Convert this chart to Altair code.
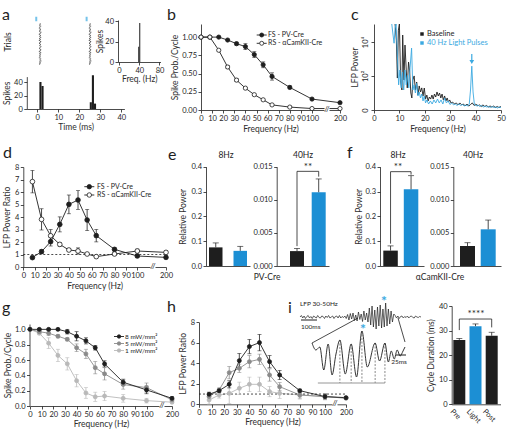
import altair as alt
import pandas as pd

W, H = 507, 431
FONT = "Lato"
INK = "#1e1e1e"
BLUE = "#1c8fd4"
SKY = "#3ba9e1"
MID = "#8a8a8a"
LIGHT = "#b9b9b9"

# ---------------- a: raster, PSTH, instantaneous frequency ----------------
RASTER_EARLY = [1.4, 1.1, 1.6, 1.2, 1.0, 1.5, 1.3, 1.1, 1.7, 1.4, 1.0, 1.5, 1.2, 1.6, 1.1, 1.4, 1.0, 1.6, 1.3, 1.1,
                1.5, 1.2, 1.7, 1.3, 1.1, 1.6, 1.4, 1.0, 1.6, 1.2, 1.5, 1.1, 1.4, 1.0, 1.6, 1.3, 1.7, 1.2, 1.4, 1.1]
RASTER_LATE = [25.2, 24.9, 25.4, 25.0, 24.8, 25.3, 25.1, 24.9, 25.5, 25.2, 24.8, 25.3, 25.0, 25.4, 24.9, 25.2, 24.8,
               25.4, 25.1, 24.9, 25.3, 25.0, 25.5, 25.1, 24.9, 25.4, 25.2, 24.8, 25.4, 25.0, 25.3, 24.9, 25.2, 24.8,
               25.4, 25.1, 25.5, 25.0, 25.2, 24.9]
STIM_TIMES = [-0.5, 23.5]
PSTH_BIN_START = [1, 2, 25, 26, 27]
PSTH_COUNT = [40, 34, 10, 50, 8]
PSTH_BIN_MS = 1
FREQ_BIN_START = [38, 40]
FREQ_COUNT = [15, 38]
FREQ_BIN_HZ = 2

# ---------------- b: spike probability per cycle ----------------
B_FREQ = [0, 8, 16, 24, 32, 40, 48, 56, 64, 80, 100, 200]
B_FS = [1.0, 1.0, 1.0, 0.96, 0.91, 0.87, 0.76, 0.62, 0.46, 0.31, 0.15, 0.10]
B_FS_SEM = [0.0, 0.0, 0.005, 0.01, 0.02, 0.04, 0.04, 0.04, 0.05, 0.02, 0.01, 0.01]
B_RS = [1.0, 1.0, 0.82, 0.59, 0.41, 0.30, 0.21, 0.14, 0.07, 0.04, 0.02, 0.02]
B_RS_SEM = [0.0, 0.0, 0.01, 0.02, 0.02, 0.01, 0.01, 0.01, 0.01, 0.01, 0.005, 0.005]

# ---------------- c: LFP spectra ----------------
C_BASE_HZ = [8.3, 8.8, 9.2, 9.6, 10.0, 10.5, 11.0, 11.3, 11.8, 12.2, 12.7, 13.1, 13.6, 14.0,
             14.5, 14.9, 15.3, 15.8, 16.3, 16.8, 17.3, 17.8, 18.3, 18.8, 19.3, 19.8, 20.3, 20.8, 21.3, 21.8,
             22.3, 22.8, 23.3, 23.8, 24.3, 24.8, 25.3, 25.8, 26.3, 26.8, 27.3, 27.8, 28.3, 28.8, 29.3, 29.8,
             30.3,
             31.0, 31.7, 32.4, 33.1, 33.8, 34.5, 35.2, 35.9, 36.6, 37.3, 38.0, 38.7, 39.4, 40.1, 40.8, 41.5,
             42.2, 42.9, 43.6, 44.3, 45.0, 45.7, 46.4, 47.1, 47.8, 48.5, 49.2, 50.0]
C_BASE_POW = [150000, 13000, 75, 50000, 150000, 43, 14, 25800, 57, 6650, 225, 19, 665, 225,
              9, 4.1, 57, 100, 14, 43, 6.6, 25, 10.5, 19, 5.7, 18.7, 3.4, 6.6, 2.4, 4.8,
              3.4, 6.6, 3.4, 7.7, 4.8, 10.5, 5.7, 9, 4.1, 7.7, 2.9, 5.7, 2.4, 4.1, 1.95, 2.9,
              1.6,
              1.9, 1.25, 1.6, 1.0, 1.6, 1.0, 1.25, 0.72, 1.25, 0.7, 1.1, 1.6, 0.85, 1.25, 0.72, 1.0,
              0.6, 1.0, 0.6, 0.85, 0.5, 0.72, 0.5, 0.7, 0.4, 0.6, 0.4, 0.6]
C_LIGHT_HZ = [7.0, 7.5, 7.9, 8.3, 8.7,
              9.2, 9.7, 10.2, 10.7, 11.2, 11.7, 12.2, 12.7, 13.2, 13.7, 14.2,
              14.8,
              15.3, 15.8, 16.3, 16.8, 17.3, 17.8, 18.3, 18.8, 19.3, 19.8, 20.3, 20.8,
              21.5, 22.2, 22.9, 23.6, 24.3, 25.0, 25.7, 26.4, 27.1, 27.8, 28.5, 29.2, 29.9, 30.6, 31.3, 32.0,
              32.7, 33.4, 34.1, 34.8, 35.5, 36.2, 36.9,
              37.5, 38.0, 38.5, 39.0, 39.5,
              40.2, 40.9, 41.6, 42.3, 43.0, 43.7, 44.4, 45.1, 45.8, 46.5, 47.2, 47.9, 48.6, 49.3, 50.0]
C_LIGHT_POW = [150000, 25800, 8500, 65000, 150000,
               1720, 29, 225, 19, 171, 14, 225, 29, 113, 19, 300,
               4400,
               14, 29, 9, 36, 5.7, 10.5, 4.1, 7.7, 2.4, 5.7, 1.6, 2.9,
               1.25, 2.4, 1.25, 2.9, 1.6, 3.4, 1.6, 2.9, 1.25, 4.1, 1.6, 2.4, 1.1, 1.6, 1.0, 1.25,
               0.85, 1.25, 0.85, 1.1, 0.72, 1.0, 0.72,
               1.25, 14, 380, 10.5, 1.25,
               0.72, 1.0, 0.6, 0.85, 0.5, 0.72, 0.5, 0.6, 0.4, 0.6, 0.4, 0.5, 0.31, 0.5, 0.4]
C_PULSE_HZ = 38.5

# ---------------- d: LFP power ratio ----------------
D_FREQ = [8, 16, 24, 32, 40, 48, 56, 64, 80, 100, 200]
D_FS = [0.75, 1.23, 2.03, 3.41, 5.01, 5.36, 3.76, 2.51, 1.41, 0.88, 0.77]
D_FS_SEM = [0.05, 0.15, 0.35, 0.6, 0.75, 0.75, 0.85, 0.5, 0.12, 0.1, 0.1]
D_RS = [6.83, 3.81, 2.5, 1.81, 1.36, 1.28, 1.04, 0.83, 1.04, 1.28, 1.17]
D_RS_SEM = [0.9, 0.85, 0.5, 0.15, 0.12, 0.25, 0.05, 0.1, 0.1, 0.15, 0.12]

# ---------------- e / f: relative power ----------------
CONDS = ["Baseline", "Light"]
E8 = [0.075, 0.061]
E8_SEM = [0.018, 0.018]
E40 = [0.00225, 0.01115]
E40_SEM = [0.0004, 0.002]
F8 = [0.062, 0.309]
F8_SEM = [0.019, 0.055]
F40 = [0.00302, 0.00554]
F40_SEM = [0.0005, 0.0014]

# ---------------- g / h: light intensity series ----------------
POWERS = ["8 mW/mm²", "5 mW/mm²", "1 mW/mm²"]
G_FREQ = [0, 8, 16, 24, 32, 40, 48, 56, 64, 80, 100, 200]
G8 = [1.0, 1.0, 1.0, 1.0, 0.97, 0.91, 0.85, 0.76, 0.55, 0.31, 0.21, 0.10]
G8_SEM = [0.01, 0.01, 0.01, 0.01, 0.03, 0.06, 0.04, 0.03, 0.04, 0.04, 0.05, 0.02]
G5 = [1.0, 0.97, 0.95, 0.91, 0.87, 0.76, 0.68, 0.50, 0.42, 0.28, 0.24, 0.08]
G5_SEM = [0.01, 0.01, 0.03, 0.02, 0.02, 0.05, 0.06, 0.08, 0.08, 0.06, 0.06, 0.02]
G1 = [1.0, 0.95, 0.82, 0.66, 0.55, 0.33, 0.17, 0.12, 0.13, 0.10, 0.07, 0.05]
G1_SEM = [0.01, 0.02, 0.07, 0.08, 0.08, 0.08, 0.07, 0.06, 0.06, 0.05, 0.03, 0.02]
H_FREQ = [8, 16, 24, 32, 40, 48, 56, 64, 80, 100, 200]
H8 = [0.98, 1.33, 1.95, 4.26, 5.63, 6.02, 4.16, 2.86, 1.33, 0.75, 0.65]
H8_SEM = [0.2, 0.15, 0.35, 0.7, 0.7, 0.8, 0.6, 0.45, 0.15, 0.2, 0.1]
H5 = [0.75, 1.4, 3.09, 3.51, 4.16, 4.39, 2.86, 1.72, 0.91, 0.75, 0.6]
H5_SEM = [0.3, 0.2, 0.6, 0.4, 0.6, 0.5, 0.6, 0.4, 0.3, 0.3, 0.1]
H1 = [0.42, 0.91, 1.07, 1.56, 1.95, 1.95, 1.24, 1.07, 0.91, 0.75, 0.6]
H1_SEM = [0.4, 0.3, 1.0, 0.6, 0.7, 0.7, 0.5, 0.5, 0.4, 0.3, 0.1]

# ---------------- i: filtered LFP and cycle duration ----------------
LFP_TRACE = [0, 1.5, -1, 1, -1.5, 0.5, 1.5, -1, 0.5, -1.5, 1, 0, -1, 1.5, -0.5, -1, 1, 0.5, -1.5, 1,
             -0.5, 1.5, -1, 0, 1, -1.5, 0.5, 1, -1, 1.5, -1, 0.5, -0.5, 1, -1.5,
             2.5, -3, 3.5, -2, 4, -3.5, 2, -4, 5, -2.5, 3, -4.5, 6, -3, 4, -5,
             9, -8, 11, -10, 7, -12, 10, -9, 12, -11, 8, -10, 14, -9, 8, -7, 6, -5, 3,
             1.5, -1, 1, -1.5, 0.5, 1, -1, 0.5, -0.5, 1, -1, 0.5, 1, -0.5, -1, 1, 0, -0.5, 0.5, 0]
ZOOM_MS = [0, 8, 16, 24, 33, 41, 49, 57, 68, 80, 91, 102, 113, 129, 138, 149, 156, 162, 168, 174, 180, 186, 190]
ZOOM_UV = [15, 8, 11, -12, 14, -17, 4, 18, -16, 14, -19, 27, -9, 15, -3, 15, -4, 7, -1, 8, 2, 7, 11]
PEAK_MS = [57, 80, 102, 129, 149]
PEAK_UV = [18, 14, 27, 15, 15]
PEAK_FLOOR = -25
FLOOR_START_MS = 12
CYCLE_CONDS = ["Pre", "Light", "Post"]
CYCLE_MS = [26.2, 31.8, 27.9]
CYCLE_SEM = [0.6, 0.9, 1.4]

ONE = pd.DataFrame({"k": [0]})


def q(domain, rng, **kw):
    return alt.Scale(domain=domain, range=rng, nice=False, zero=False, **kw)


def left(xpix, values, title=None, fmt=None, pad=3, **kw):
    opts = dict(orient="left", offset=-xpix, values=values, title=title, titlePadding=pad,
                titleFontWeight="normal")
    if fmt:
        opts["format"] = fmt
    opts.update(kw)
    return alt.Axis(**opts)


def bottom(ypix, values=None, title=None, fmt=None, pad=2, **kw):
    opts = dict(orient="bottom", offset=ypix - H, title=title, titlePadding=pad, titleFontWeight="normal")
    if values is not None:
        opts["values"] = values
    if fmt:
        opts["format"] = fmt
    opts.update(kw)
    return alt.Axis(**opts)


def band(names, start, end, first, width, gap):
    step = width + gap
    n = len(names)
    inner = gap / step
    outer_total = (end - start) - step * (n - inner)
    return alt.Scale(domain=names, range=[start, end], paddingInner=inner,
                     paddingOuter=outer_total / (2 * step), align=(first - start) / outer_total)


def label(text, x, y, size=8, angle=0, color=INK, align="center", baseline="middle", weight="normal"):
    kw = dict(text=text, fontSize=size, color=color, align=align, baseline=baseline, font=FONT,
              fontWeight=weight)
    if angle:
        kw["angle"] = angle
    return alt.Chart(ONE).mark_text(**kw).encode(x=alt.value(x), y=alt.value(y))


def seg(x1, y1, x2, y2, color=INK, width=0.8, dash=None):
    kw = dict(color=color, strokeWidth=width)
    if dash:
        kw["strokeDash"] = dash
    return alt.Chart(ONE).mark_rule(**kw).encode(x=alt.value(x1), y=alt.value(y1),
                                                 x2=alt.value(x2), y2=alt.value(y2))


def glyph(x, y, fill, stroke, size=16, line=True):
    parts = []
    if line:
        parts.append(seg(x - 5, y, x + 5, y, color=stroke, width=0.9))
    parts.append(alt.Chart(ONE).mark_point(filled=True, fill=fill, stroke=stroke, size=size, strokeWidth=0.8,
                                           opacity=1).encode(x=alt.value(x), y=alt.value(y)))
    return parts


def breakmark(x, y):
    return [alt.Chart(ONE).mark_rect(color="white").encode(x=alt.value(x - 2.5), x2=alt.value(x + 2.5),
                                                           y=alt.value(y - 2), y2=alt.value(y + 2)),
            label("//", x, y, size=8)]


def series_frame(freqs, groups):
    rows = []
    for name, means, sems in groups:
        for f, m, s in zip(freqs, means, sems):
            rows.append({"freq": f, "mean": m, "lo": m - s, "hi": m + s, "cell": name})
    return pd.DataFrame(rows)


def sweep(df, xs, ys, xax, yax, names, line_cols, fill_cols, dot=18, cap=4, ref=None, xdom=None):
    """Mean +/- SEM curves over stimulation frequency; returns layers sharing identical scales."""
    stroke = alt.Stroke("cell:N", scale=alt.Scale(domain=names, range=line_cols), legend=None)
    color = alt.Color("cell:N", scale=alt.Scale(domain=names, range=line_cols), legend=None)
    fill = alt.Fill("cell:N", scale=alt.Scale(domain=names, range=fill_cols), legend=None)
    xn = alt.X("freq:Q", scale=xs, axis=None)
    base = alt.Chart(df)
    layers = [
        base.mark_line(strokeWidth=0.9).encode(x=alt.X("freq:Q", scale=xs, axis=xax),
                                               y=alt.Y("mean:Q", scale=ys, axis=yax), stroke=stroke),
    ]
    if ref is not None:
        ref_df = pd.DataFrame({"f0": [xdom[0]], "f1": [xdom[-1]], "r": [ref]})
        layers.append(alt.Chart(ref_df).mark_rule(color=INK, strokeWidth=0.8, strokeDash=[2, 2]).encode(
            x=alt.X("f0:Q", scale=xs, axis=None), x2="f1:Q", y=alt.Y("r:Q", scale=ys, axis=None)))
    layers += [
        base.mark_rule(strokeWidth=0.8).encode(x=xn, y=alt.Y("lo:Q", scale=ys, axis=None), y2="hi:Q",
                                               stroke=stroke),
        base.mark_tick(orient="horizontal", size=cap, thickness=0.8).encode(
            x=xn, y=alt.Y("hi:Q", scale=ys, axis=None), color=color),
        base.mark_tick(orient="horizontal", size=cap, thickness=0.8).encode(
            x=xn, y=alt.Y("lo:Q", scale=ys, axis=None), color=color),
        base.mark_point(filled=True, size=dot, strokeWidth=0.8, opacity=1).encode(
            x=xn, y=alt.Y("mean:Q", scale=ys, axis=None), fill=fill, stroke=stroke),
    ]
    return layers


def bars(names, vals, sems, cols, xs, ys, xax, yax, cap=6, bracket=None):
    """Bar means with an upper SEM whisker and an optional significance bracket."""
    df = pd.DataFrame({"cond": names, "val": vals, "top": [v + s for v, s in zip(vals, sems)]})
    base = alt.Chart(df)
    xn = alt.X("cond:N", scale=xs, axis=None)
    layers = [
        base.mark_bar().encode(x=alt.X("cond:N", scale=xs, axis=xax), y=alt.Y("val:Q", scale=ys, axis=yax),
                               fill=alt.Fill("cond:N", scale=alt.Scale(domain=names, range=cols), legend=None)),
        base.mark_rule(color=INK, strokeWidth=0.8).encode(x=xn, y=alt.Y("val:Q", scale=ys, axis=None),
                                                          y2="top:Q"),
        base.mark_tick(orient="horizontal", size=cap, thickness=0.9, color=INK).encode(
            x=xn, y=alt.Y("top:Q", scale=ys, axis=None)),
    ]
    if bracket is not None:
        a, b, foot_a, level, foot_b = bracket
        br = pd.DataFrame({"c1": [a, a, b], "c2": [a, b, b], "v1": [foot_a, level, foot_b],
                           "v2": [level, level, level]})
        layers.append(alt.Chart(br).mark_rule(color=INK, strokeWidth=0.8).encode(
            x=alt.X("c1:N", scale=xs, axis=None), x2="c2:N",
            y=alt.Y("v1:Q", scale=ys, axis=None), y2="v2:Q"))
    return layers


FREQ_TICKS = [0, 10, 20, 30, 40, 50, 60, 70, 80, 90, 100, 200]

# ---------------- panel a ----------------
ta = q([-5, 41.5], [26.8, 124.4])
raster_df = pd.concat([
    pd.DataFrame({"t": RASTER_EARLY, "trial": range(1, len(RASTER_EARLY) + 1)}),
    pd.DataFrame({"t": RASTER_LATE, "trial": range(1, len(RASTER_LATE) + 1)}),
])
trial_scale = q([1, 40], [24, 64])
panel_a = [
    alt.Chart(raster_df).mark_point(filled=True, size=1.6, color="#5a5a5a", opacity=1).encode(
        x=alt.X("t:Q", scale=ta, axis=None), y=alt.Y("trial:Q", scale=trial_scale, axis=None)),
    alt.Chart(pd.DataFrame({"t": STIM_TIMES})).mark_tick(orient="vertical", size=4.5, thickness=2, color=SKY).encode(
        x=alt.X("t:Q", scale=ta, axis=None), y=alt.value(19)),
]
psth_df = pd.DataFrame({"t0": PSTH_BIN_START, "n": PSTH_COUNT})
psth_df["t1"] = psth_df["t0"] + PSTH_BIN_MS
psth_df["base"] = 0
panel_a.append(alt.Chart(psth_df).mark_rect(color=INK).encode(
    x=alt.X("t0:Q", scale=ta, axis=bottom(109, [0, 10, 20, 30, 40], "Time (ms)", pad=1)),
    x2="t1:Q",
    y=alt.Y("n:Q", scale=q([0, 48], [109, 76.6]), axis=left(26.8, [0, 20, 40], "Spikes", pad=2)),
    y2="base:Q",
))
isi_df = pd.DataFrame({"f0": FREQ_BIN_START, "n": FREQ_COUNT})
isi_df["f1"] = isi_df["f0"] + FREQ_BIN_HZ
isi_df["base"] = 0
panel_a.append(alt.Chart(isi_df).mark_rect(color=INK).encode(
    x=alt.X("f0:Q", scale=q([-2, 82], [118, 160.5]), axis=bottom(62, [0, 40, 80], "Freq. (Hz)", pad=0)),
    x2="f1:Q",
    y=alt.Y("n:Q", scale=q([0, 41], [62, 20]), axis=left(118, [0, 20, 40], "Spikes", pad=0)),
    y2="base:Q",
))

# ---------------- panel b ----------------
b_df = series_frame(B_FREQ, [("FS", B_FS, B_FS_SEM), ("RS", B_RS, B_RS_SEM)])
panel_b = sweep(b_df, q([0, 100, 200], [201, 312, 340]), q([0, 1.18], [110, 24]),
                bottom(110, FREQ_TICKS, "Frequency (Hz)"),
                left(201, [0, 0.25, 0.5, 0.75, 1.0], "Spike Prob./Cycle", fmt=".2f", pad=2),
                ["FS", "RS"], [INK, INK], [INK, "white"], dot=18)

# ---------------- panel c ----------------
c_df = pd.concat([
    pd.DataFrame({"hz": C_BASE_HZ, "pow": C_BASE_POW, "cond": "Baseline"}),
    pd.DataFrame({"hz": C_LIGHT_HZ, "pow": C_LIGHT_POW, "cond": "Light"}),
])
cx = q([0, 50], [374, 501])
cy = alt.Scale(type="symlog", constant=1, domain=[0, 115000], range=[110, 24], clamp=True, nice=False, zero=False)
panel_c = [
    alt.Chart(c_df).mark_line(strokeWidth=0.9).encode(
        x=alt.X("hz:Q", scale=cx, axis=bottom(110, [0, 10, 20, 30, 40, 50], "Frequency (Hz)")),
        y=alt.Y("pow:Q", scale=cy, axis=left(374, [0, 100, 10000], "LFP Power", pad=2, labelAngle=270,
                                             labelExpr="datum.value == 0 ? '0' : datum.value == 100 ? '10²' : '10⁴'")),
        stroke=alt.Stroke("cond:N", scale=alt.Scale(domain=["Baseline", "Light"], range=[INK, SKY]), legend=None),
        order=alt.Order("hz:Q"),
    ),
    alt.Chart(pd.DataFrame({"hz": [C_PULSE_HZ]})).mark_rule(color=SKY, strokeWidth=1.2).encode(
        x=alt.X("hz:Q", scale=cx, axis=None), y=alt.value(54), y2=alt.value(62)),
    alt.Chart(pd.DataFrame({"hz": [C_PULSE_HZ]})).mark_point(shape="triangle-down", filled=True, size=22,
                                                             color=SKY, opacity=1).encode(
        x=alt.X("hz:Q", scale=cx, axis=None), y=alt.value(62)),
]

# ---------------- panel d ----------------
d_df = series_frame(D_FREQ, [("FS", D_FS, D_FS_SEM), ("RS", D_RS, D_RS_SEM)])
panel_d = sweep(d_df, q([0, 100, 200], [23.3, 137.3, 166]), q([0, 8], [267, 167]),
                bottom(267, FREQ_TICKS, "Frequency (Hz)"),
                left(23.3, list(range(0, 9)), "LFP  Power Ratio", pad=3),
                ["FS", "RS"], [INK, INK], [INK, "white"], dot=22, ref=1, xdom=[0, 200])

# ---------------- panels e and f ----------------
no_x = dict(labels=False, ticks=False)
panel_ef = []
panel_ef += bars(CONDS, E8, E8_SEM, [INK, BLUE], band(CONDS, 206, 250, 209, 13.5, 11),
                 q([0, 0.4], [266, 166.7]), bottom(266, title=None, **no_x),
                 left(206, [0, 0.1, 0.2, 0.3, 0.4], "Relative Power", fmt=".1f", pad=4))
panel_ef += bars(CONDS, E40, E40_SEM, [INK, BLUE], band(CONDS, 276.7, 329, 290, 14, 7.7),
                 q([0, 0.015], [266, 166.7]), bottom(266, title=None, **no_x),
                 left(276.7, [0, 0.005, 0.01, 0.015], None, fmt=".3f"),
                 bracket=("Baseline", "Light", 0.003, 0.0143, 0.0135))
panel_ef += bars(CONDS, F8, F8_SEM, [INK, BLUE], band(CONDS, 380, 424, 383.3, 14.5, 6),
                 q([0, 0.4], [266, 166.7]), bottom(266, title=None, **no_x),
                 left(380, [0, 0.1, 0.2, 0.3, 0.4], "Relative Power", fmt=".1f", pad=2),
                 bracket=("Baseline", "Light", 0.09, 0.38, 0.368))
panel_ef += bars(CONDS, F40, F40_SEM, [INK, BLUE], band(CONDS, 453.3, 501, 460, 15, 5.7),
                 q([0, 0.015], [266, 166.7]), bottom(266, title=None, **no_x),
                 left(453.3, [0, 0.005, 0.01, 0.015], None, fmt=".3f"))

# ---------------- panels g and h ----------------
g_df = series_frame(G_FREQ, [(POWERS[0], G8, G8_SEM), (POWERS[1], G5, G5_SEM), (POWERS[2], G1, G1_SEM)])
panel_g = sweep(g_df.iloc[::-1], q([0, 100, 200], [30, 146.5, 172]), q([0, 1.07], [406, 324]),
                bottom(406, FREQ_TICKS, "Frequency (Hz)", pad=1),
                left(29.5, [0, 0.2, 0.4, 0.6, 0.8, 1.0], "Spike Prob./Cycle", fmt=".1f", pad=2),
                POWERS, [INK, MID, LIGHT], [INK, MID, LIGHT], dot=16)
h_df = series_frame(H_FREQ, [(POWERS[0], H8, H8_SEM), (POWERS[1], H5, H5_SEM), (POWERS[2], H1, H1_SEM)])
panel_h = sweep(h_df.iloc[::-1], q([0, 100, 200], [199, 325, 346]), q([0, 8], [404.3, 322.3]),
                bottom(404.3, FREQ_TICKS, "Frequency (Hz)", pad=1),
                left(199, [0, 2, 4, 6, 8], "LFP  Power Ratio", pad=3),
                POWERS, [INK, MID, LIGHT], [INK, MID, LIGHT], dot=16, ref=1, xdom=[0, 200])

# ---------------- panel i ----------------
trace_df = pd.DataFrame({"i": range(len(LFP_TRACE)), "uv": LFP_TRACE})
zx = q([0, 190], [312, 405])
zy = q([-30, 30], [388, 328])
zoom_df = pd.DataFrame({"ms": ZOOM_MS, "uv": ZOOM_UV})
peak_df = pd.DataFrame({"ms": PEAK_MS, "uv": PEAK_UV, "floor": PEAK_FLOOR})
panel_i = [
    alt.Chart(trace_df).mark_line(color=INK, strokeWidth=0.7).encode(
        x=alt.X("i:Q", scale=q([0, len(LFP_TRACE) - 1], [300, 421]), axis=None),
        y=alt.Y("uv:Q", scale=q([-16, 16], [333, 301]), axis=None)),
    alt.Chart(peak_df).mark_rule(color="#555555", strokeWidth=0.7, strokeDash=[2, 1.5]).encode(
        x=alt.X("ms:Q", scale=zx, axis=None), y=alt.Y("uv:Q", scale=zy, axis=None), y2="floor:Q"),
    alt.Chart(pd.DataFrame({"a": [FLOOR_START_MS], "b": [PEAK_MS[-1]], "floor": [PEAK_FLOOR]})).mark_rule(
        color="#8a8a8a", strokeWidth=0.9).encode(
        x=alt.X("a:Q", scale=zx, axis=None), x2="b:Q", y=alt.Y("floor:Q", scale=zy, axis=None)),
    alt.Chart(zoom_df).mark_line(color=INK, strokeWidth=0.9, interpolate="monotone").encode(
        x=alt.X("ms:Q", scale=zx, axis=None), y=alt.Y("uv:Q", scale=zy, axis=None)),
]
panel_i += bars(CYCLE_CONDS, CYCLE_MS, CYCLE_SEM, [INK, BLUE, INK],
                band(CYCLE_CONDS, 451.7, 500.5, 453.3, 12, 4.2), q([0, 40], [404.3, 306]),
                bottom(404.3, title=None, ticks=False, labelAngle=45, labelAlign="left", labelBaseline="top",
                       labelOffset=-5, labelPadding=3),
                left(451.7, [0, 10, 20, 30, 40], "Cycle Duration (ms)", pad=3),
                cap=6, bracket=("Pre", "Post", 30.2, 34.7, 31.3))

# ---------------- annotations ----------------
notes = [
    label("a", 2, 15, size=16, align="left"), label("b", 167, 15, size=16, align="left"),
    label("c", 351, 15, size=16, align="left"), label("d", 3, 153, size=16, align="left"),
    label("e", 168, 155, size=16, align="left"), label("f", 347, 153, size=16, align="left"),
    label("g", 2, 308, size=16, align="left"), label("h", 167, 307, size=16, align="left"),
    label("i", 288, 308, size=16, align="left"),
    label("Trials", 8, 42, size=8.5, angle=270),
    # b legend
    label("FS - PV-Cre", 268, 35, size=7, align="left"),
    label("RS -   αCamKII-Cre", 268, 43.3, size=7, align="left"),
    # c legend
    alt.Chart(ONE).mark_square(size=12, color=INK, opacity=1).encode(x=alt.value(422), y=alt.value(34)),
    alt.Chart(ONE).mark_square(size=12, color=SKY, opacity=1).encode(x=alt.value(422), y=alt.value(43)),
    label("Baseline", 427, 34, size=7.5, align="left"),
    label("40 Hz Light Pulses", 427, 43, size=7.5, align="left", color=SKY),
    # d legend
    label("FS - PV-Cre", 97, 186.7, size=7, align="left"),
    label("RS -   αCamKII-Cre", 97, 195, size=7, align="left"),
    # e / f titles
    label("8Hz", 226, 155, size=8.5), label("40Hz", 303, 155, size=8.5),
    label("8Hz", 398, 155, size=8.5), label("40Hz", 473, 155, size=8.5),
    label("PV-Cre", 267, 277, size=8.5), label("αCamKII-Cre", 440, 277, size=8.5),
    label("**", 308, 167, size=10), label("**", 398, 167, size=10),
    # g legend
    label(POWERS[0], 125, 336.5, size=6.5, align="left"),
    label(POWERS[1], 125, 343.5, size=6.5, align="left"),
    label(POWERS[2], 125, 350.5, size=6.5, align="left"),
    # i annotations
    label("LFP 30-50Hz", 300, 304, size=6.5, align="left"),
    seg(301, 320, 317, 320, width=1),
    label("100ms", 301, 327, size=6.5, align="left"),
    seg(396, 355, 406, 355, width=1),
    label("25ms", 399, 362, size=6.5),
    seg(312, 343, 358, 318, width=0.8),
    seg(398, 318, 405, 342, width=0.8),
    label("*", 384, 302, size=14, color=SKY, weight="bold"),
    label("*", 363, 330, size=14, color=SKY, weight="bold"),
    label("****", 476, 314, size=10),
]
notes += glyph(261.7, 35, INK, INK) + glyph(261.7, 43.3, "white", INK)
notes += glyph(89.3, 186.7, INK, INK, size=20) + glyph(89.3, 195, "white", INK, size=20)
notes += glyph(119, 336.5, INK, INK, size=12) + glyph(119, 343.5, MID, MID, size=12) + glyph(119, 350.5, LIGHT, LIGHT, size=12)
notes += breakmark(327, 110) + breakmark(153, 267) + breakmark(162, 406) + breakmark(335, 404.3)

layers = panel_a + panel_b + panel_c + panel_d + panel_ef + panel_g + panel_h + panel_i + notes

chart = alt.layer(*layers).resolve_scale(
    x="independent", y="independent", color="independent", fill="independent", stroke="independent"
).properties(
    width=W, height=H, padding=0, autosize=alt.AutoSizeParams(type="none")
).configure_view(stroke=None).configure_axis(
    labelFont=FONT, titleFont=FONT, labelFontSize=7.5, titleFontSize=8.5, labelColor=INK, titleColor="#2e2e2e",
    domainColor=INK, tickColor=INK, tickSize=3, domainWidth=0.8, tickWidth=0.8, labelPadding=1.5,
    titleFontWeight="normal", labelOverlap=False, labelFlush=False, grid=False
)

chart.save("out.html", embed_options={"renderer": "svg", "actions": False})
